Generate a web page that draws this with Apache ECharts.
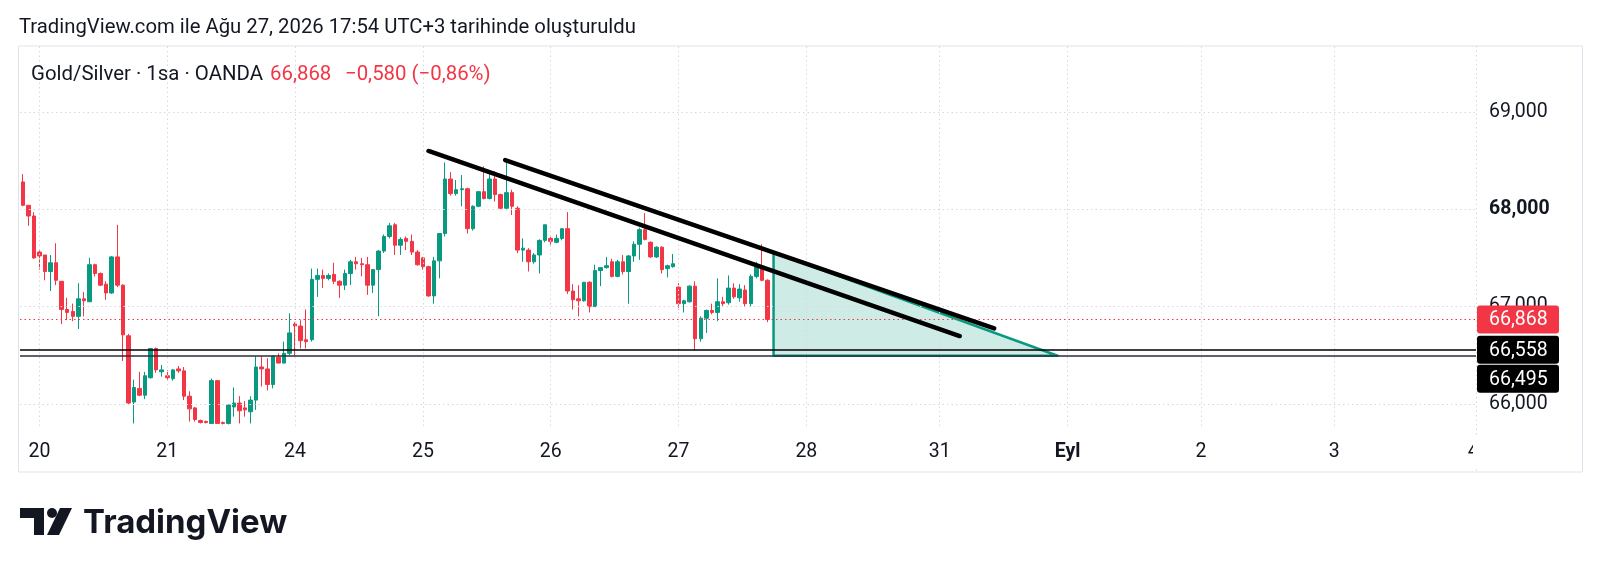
<!DOCTYPE html>
<html><head><meta charset="utf-8">
<script src="https://cdn.jsdelivr.net/npm/echarts@6/dist/echarts.min.js"></script>
<style>html,body{margin:0;padding:0;background:#fff}#c{width:1600px;height:573px}</style>
</head><body><div id="c"></div>
<script>
// ---- data (hourly candles, Gold/Silver, OANDA) ----
const openP = [
68.28,68.04,67.93,67.56,67.53,67.36,67.45,67.26,66.97,66.95,
66.90,67.08,67.05,67.43,67.34,67.23,67.14,67.51,67.22,66.70,
66.02,66.16,66.09,66.27,66.57,66.33,66.29,66.26,66.36,66.34,
66.08,65.96,65.83,65.82,65.80,66.24,65.81,65.80,65.97,66.01,
65.96,65.92,66.04,66.38,66.36,66.20,66.48,66.42,66.52,66.82,
66.80,66.66,66.66,67.28,67.32,67.29,67.33,67.26,67.22,67.34,
67.46,67.44,67.43,67.22,67.38,67.57,67.72,67.84,67.63,67.70,
67.67,67.56,67.50,67.41,67.11,67.47,67.75,68.31,68.16,68.20,
68.21,67.80,68.03,68.18,68.11,68.31,68.15,68.01,68.17,68.01,
67.58,67.58,67.46,67.53,67.68,67.70,67.66,67.70,67.80,67.16,
67.08,67.06,67.25,67.00,67.37,67.40,67.46,67.31,67.46,67.36,
67.52,67.64,67.79,67.66,67.51,67.61,67.39,67.41,67.20,67.03,
67.05,67.21,66.67,66.88,66.96,66.94,67.05,67.04,67.19,67.09,
67.17,67.03,67.31,67.41,67.27];
const highP = [
68.36,68.04,67.97,67.59,67.53,67.53,67.65,67.26,67.09,67.03,
67.24,67.15,67.50,67.44,67.35,67.26,67.52,67.84,67.23,66.72,
66.25,66.33,66.33,66.57,66.58,66.40,66.35,66.36,66.39,66.38,
66.13,65.97,65.84,65.83,66.26,66.24,65.82,66.00,66.17,66.08,
66.03,66.08,66.49,66.49,66.47,66.50,66.52,66.64,66.93,66.84,
66.86,66.97,67.39,67.39,67.38,67.34,67.45,67.27,67.38,67.48,
67.51,67.50,67.51,67.38,67.58,67.74,67.86,67.86,67.71,67.72,
67.74,67.58,67.51,67.42,67.51,67.75,68.48,68.38,68.30,68.35,
68.22,68.04,68.18,68.44,68.39,68.39,68.16,68.51,68.20,68.03,
67.70,67.60,67.55,67.69,67.84,67.72,67.74,67.80,67.97,67.23,
67.22,67.25,67.26,67.43,67.40,67.51,67.49,67.48,67.53,67.53,
67.67,67.81,67.96,67.67,67.62,67.62,67.43,67.54,67.24,67.07,
67.22,67.26,66.90,66.97,67.03,67.29,67.10,67.32,67.24,67.23,
67.22,67.33,67.46,67.64,67.28];
const lowP = [
68.03,67.83,67.49,67.38,67.27,67.16,67.22,66.82,66.86,66.85,
66.77,66.90,67.05,67.31,67.21,67.07,67.13,67.20,66.44,65.99,
65.80,66.08,66.05,66.26,66.32,66.28,66.24,66.24,66.32,66.04,
65.82,65.82,65.80,65.80,65.80,65.80,65.79,65.79,65.87,65.80,
65.87,65.80,65.94,66.18,66.14,66.16,66.42,66.42,66.50,66.49,
66.57,66.57,66.64,67.10,67.19,67.27,67.23,67.09,67.17,67.22,
67.38,67.31,67.12,67.14,66.90,67.55,67.70,67.53,67.53,67.58,
67.53,67.42,67.38,67.10,67.03,67.29,67.72,68.14,68.14,68.03,
67.75,67.78,68.02,68.10,68.10,68.08,68.00,67.99,67.94,67.55,
67.46,67.36,67.44,67.34,67.66,67.62,67.65,67.68,67.13,66.97,
66.90,67.05,66.94,67.00,67.21,67.39,67.30,67.30,67.33,67.03,
67.46,67.48,67.68,67.50,67.50,67.34,67.30,67.40,66.97,66.94,
67.04,66.55,66.64,66.73,66.92,66.85,67.00,67.02,67.08,67.05,
67.00,67.00,67.29,67.26,66.84];
const closeP = [
68.04,67.93,67.50,67.52,67.36,67.45,67.27,66.97,66.94,66.90,
67.08,67.06,67.43,67.34,67.22,67.14,67.51,67.22,66.71,66.01,
66.17,66.09,66.29,66.57,66.35,66.35,66.27,66.35,66.34,66.08,
65.95,65.84,65.81,65.81,66.24,65.80,65.80,65.99,66.01,65.93,
65.94,66.04,66.38,66.36,66.20,66.49,66.42,66.52,66.73,66.80,
66.65,66.64,67.28,67.32,67.29,67.32,67.26,67.22,67.34,67.46,
67.44,67.43,67.22,67.38,67.57,67.72,67.83,67.63,67.69,67.67,
67.56,67.43,67.41,67.11,67.47,67.75,68.31,68.16,68.20,68.21,
67.80,68.03,68.18,68.11,68.31,68.15,68.01,68.17,68.03,67.58,
67.60,67.46,67.53,67.68,67.84,67.67,67.70,67.80,67.16,67.07,
67.06,67.25,67.00,67.37,67.40,67.42,67.31,67.46,67.36,67.52,
67.64,67.79,67.69,67.51,67.61,67.38,67.42,67.44,67.03,67.06,
67.21,66.67,66.88,66.96,66.94,67.05,67.03,67.19,67.10,67.18,
67.03,67.31,67.42,67.27,66.868];

const slotCount = 262;                      // hourly slots incl. future space
const dayLabels = ['20','21','24','25','26','27','28','31','Eyl','2','3','4'];
const daySlots  = [3,26,49,72,95,118,141,165,188,212,236,261];
const priceTicks = [66,67,68,69];
const lastPrice = 66.868;
const levelHigh = 66.558;
const levelLow  = 66.495;
const trendA = [[73.0,68.598],[168.6,66.698]];
const trendB = [[86.8,68.505],[174.8,66.777]];
const triangle = [[135.1,67.557],[186.2,66.495],[135.1,66.495]];

const titleText = 'TradingView.com ile Ağu 27, 2026 17:54 UTC+3 tarihinde oluşturuldu';
const symbolText = 'Gold/Silver · 1sa · OANDA';
const priceText = '66,868';
const changeText = '−0,580 (−0,86%)';

// ---- build ----
const categories = Array.from({length: slotCount}, (_, i) => String(i));
const candles = openP.map((o, i) => [o, closeP[i], lowP[i], highP[i]]);
const fmt = v => v.toFixed(3).replace('.', ',');
const FONT = 'Roboto, "Noto Sans", sans-serif';
const TXT = '#131722';
const UP = '#089981', DOWN = '#f23645';

const GRID = {left: 20, top: 46, width: 1456, height: 380};
const yMin = 65.774, yMax = 69.6756;

const chart = echarts.init(document.getElementById('c'), null, {renderer: 'canvas', width: 1600, height: 573});

const option = {
  animation: false,
  backgroundColor: '#ffffff',
  grid: {left: GRID.left, top: GRID.top, width: GRID.width, height: GRID.height, containLabel: false},
  xAxis: [
    {
      type: 'category', data: categories, boundaryGap: true,
      axisLine: {show: false}, axisTick: {show: false}, splitLine: {show: false},
      axisLabel: {
        interval: (i) => daySlots.indexOf(i) >= 0,
        formatter: (v, i) => {
          const k = daySlots.indexOf(i);
          if (k < 0) return '';
          const t = dayLabels[k];
          return t === 'Eyl' ? '{b|' + t + '}' : t;
        },
        color: TXT, fontFamily: FONT, fontSize: 19.5, margin: 16,
        rich: {b: {fontWeight: 'bold', fontFamily: FONT, fontSize: 19.5, color: TXT}}
      }
    },
    {type: 'value', min: -0.5, max: slotCount - 0.5, show: false}
  ],
  yAxis: {
    type: 'value', position: 'right', min: yMin, max: yMax,
    splitLine: {show: false}, axisLine: {show: false}, axisTick: {show: false},
    axisLabel: {
      customValues: priceTicks,
      formatter: (v) => Math.abs(v - 68) < 1e-9 ? '{b|' + fmt(v) + '}' : fmt(v),
      margin: 13, color: TXT, fontFamily: FONT, fontSize: 19.5,
      rich: {b: {fontWeight: 'bold', fontFamily: FONT, fontSize: 19.5, color: TXT}}
    }
  },
  series: [
    {
      name: 'grid', type: 'line', xAxisIndex: 1, data: [], z: 0, silent: true,
      markLine: {
        silent: true, symbol: ['none', 'none'], label: {show: false}, animation: false,
        lineStyle: {color: '#d6d9e0', type: [1.5, 3], width: 1},
        data: daySlots.slice(0, -1).map(s => ({xAxis: s})).concat(priceTicks.map(v => ({yAxis: v})))
      }
    },
    {
      name: 'Gold/Silver', type: 'candlestick', xAxisIndex: 0, data: candles, barWidth: 4, z: 3,
      itemStyle: {color: UP, color0: DOWN, borderColor: UP, borderColor0: DOWN, borderWidth: 1},
      markLine: {
        silent: true, symbol: ['none', 'none'], label: {show: false}, animation: false,
        data: [
          {yAxis: levelHigh, lineStyle: {color: '#000000', width: 1.5, type: 'solid'}},
          {yAxis: levelLow, lineStyle: {color: '#2a2e39', width: 1.5, type: 'solid'}},
          {yAxis: lastPrice, lineStyle: {color: DOWN, width: 1, type: [1.5, 3]}}
        ]
      }
    },
    {
      name: 'triangle', type: 'custom', xAxisIndex: 1, z: 4, silent: true,
      data: [triangle[0]],
      renderItem: (params, api) => {
        const pts = triangle.map(p => api.coord(p));
        return {type: 'polygon', shape: {points: pts},
          style: {fill: 'rgba(8,153,129,0.2)', stroke: UP, lineWidth: 2.5, lineJoin: 'round'}};
      }
    },
    {
      name: 'trendA', type: 'line', xAxisIndex: 1, data: trendA, symbol: 'none', z: 5, silent: true,
      lineStyle: {color: '#000', width: 4.5, cap: 'round'}
    },
    {
      name: 'trendB', type: 'line', xAxisIndex: 1, data: trendB, symbol: 'none', z: 5, silent: true,
      lineStyle: {color: '#000', width: 4.5, cap: 'round'}
    }
  ]
};
chart.setOption(option);

// ---- overlays: price tags, header, logo ----
const tags = [
  {v: lastPrice, bg: DOWN},
  {v: levelHigh, bg: '#000000'},
  {v: levelLow, bg: '#000000'}
].map(t => Object.assign(t, {y: chart.convertToPixel({yAxisIndex: 0}, t.v)}))
 .sort((a, b) => a.y - b.y);
const TAG_H = 28;
let prevBottom = -Infinity;
const tagEls = [];
tags.forEach(t => {
  let top = Math.max(t.y - TAG_H / 2, prevBottom + 1);
  prevBottom = top + TAG_H;
  tagEls.push({type: 'rect', z: 60, shape: {x: 1477, y: top, width: 82, height: TAG_H, r: 3}, style: {fill: t.bg}});
  tagEls.push({type: 'text', z: 61, x: 1489, y: top + TAG_H / 2 + 1,
    style: {text: fmt(t.v), fill: '#ffffff', font: '19.5px ' + FONT, verticalAlign: 'middle', align: 'left'}});
});

const rightEdge = GRID.left + GRID.width;
const graphics = [
  {type: 'rect', z: 1, shape: {x: 18.5, y: 46, width: 1564, height: 426}, style: {fill: 'none', stroke: '#e0e3eb', lineWidth: 1}},
  {type: 'line', z: 1, shape: {x1: rightEdge + 0.5, y1: 46, x2: rightEdge + 0.5, y2: 472}, style: {stroke: '#d6d9e0', lineWidth: 1, lineDash: [1.5, 3]}},
  {type: 'rect', z: 50, shape: {x: rightEdge - 3, y: 436, width: 14, height: 30}, style: {fill: '#ffffff'}},
  {type: 'text', z: 20, x: 19, y: 28, style: {text: titleText, fill: TXT, font: '20.3px ' + FONT, verticalAlign: 'middle'}},
  {type: 'text', z: 20, x: 31, y: 75, style: {text: symbolText, fill: TXT, font: '20.4px ' + FONT, verticalAlign: 'middle'}},
  {type: 'text', z: 20, x: 270, y: 75, style: {text: priceText, fill: DOWN, font: '20.4px ' + FONT, verticalAlign: 'middle'}},
  {type: 'text', z: 20, x: 345, y: 75, style: {text: changeText, fill: DOWN, font: '20.4px ' + FONT, verticalAlign: 'middle'}},
  // TradingView logo mark
  {type: 'polygon', z: 20, shape: {points: [[20, 508], [44, 508], [44, 535], [34, 535], [34, 518], [20, 518]]}, style: {fill: TXT}},
  {type: 'circle', z: 20, shape: {cx: 52, cy: 513, r: 5}, style: {fill: TXT}},
  {type: 'polygon', z: 20, shape: {points: [[47, 535], [60, 508], [72, 508], [59, 535]]}, style: {fill: TXT}},
  {type: 'text', z: 20, x: 83, y: 523, style: {text: 'TradingView', fill: TXT, font: 'bold 33px Inter, Roboto, sans-serif', verticalAlign: 'middle'}}
].concat(tagEls);

chart.setOption({graphic: {elements: graphics}});
</script>
</body></html>
